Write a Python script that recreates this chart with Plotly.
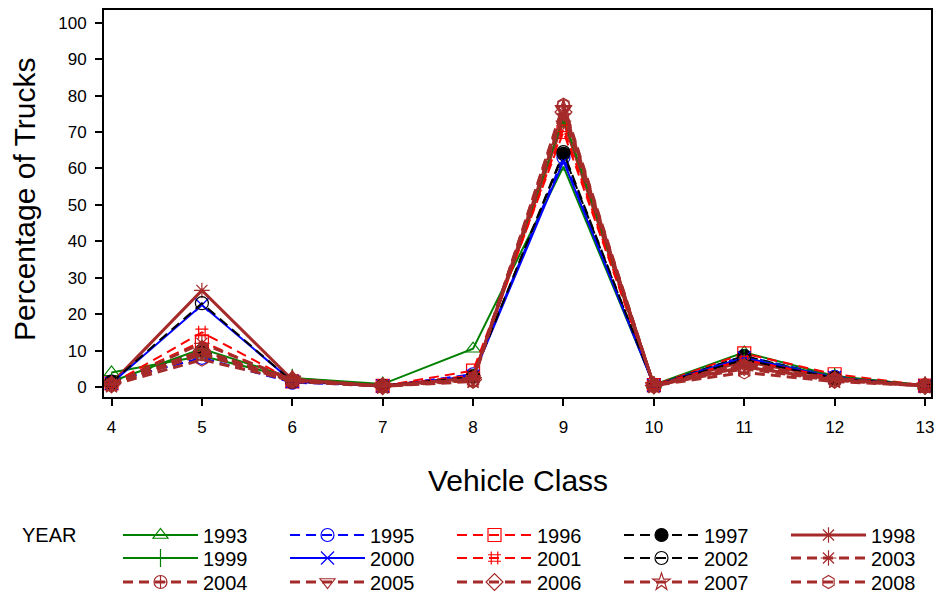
import plotly.graph_objects as go

vehicle_class = [4, 5, 6, 7, 8, 9, 10, 11, 12, 13]

y1993 = [4.0, 8.5, 2.5, 0.8, 10.5, 60.5, 0.6, 9.5, 3.0, 0.4]
y1995 = [1.5, 8.0, 1.2, 0.3, 3.5, 63.0, 0.4, 8.5, 2.8, 0.3]
y1996 = [1.0, 12.5, 1.5, 0.3, 4.5, 70.0, 0.5, 9.2, 3.5, 0.4]
y1997 = [1.5, 10.0, 1.5, 0.3, 3.0, 64.0, 0.4, 8.5, 2.5, 0.3]
y1998 = [1.0, 26.5, 2.0, 0.3, 2.5, 73.0, 0.5, 7.0, 2.5, 0.4]
y1999 = [1.5, 10.5, 2.5, 0.4, 2.5, 74.0, 0.5, 8.0, 2.8, 0.4]
y2000 = [1.0, 22.5, 1.5, 0.3, 3.0, 62.0, 0.4, 8.0, 2.6, 0.3]
y2001 = [0.8, 15.0, 1.8, 0.3, 3.2, 71.0, 0.5, 7.5, 2.5, 0.4]
y2002 = [1.2, 23.0, 1.5, 0.3, 2.8, 64.5, 0.4, 7.5, 2.4, 0.3]
y2003 = [0.8, 12.0, 2.0, 0.3, 2.5, 75.0, 0.5, 6.5, 2.2, 0.4]
y2004 = [0.6, 9.0, 1.5, 0.2, 2.0, 77.0, 0.4, 5.5, 2.0, 0.3]
y2005 = [0.8, 9.5, 1.8, 0.2, 2.2, 76.0, 0.4, 6.0, 2.2, 0.3]
y2006 = [0.7, 10.0, 2.0, 0.2, 2.0, 75.5, 0.4, 5.5, 2.0, 0.3]
y2007 = [0.6, 9.0, 2.2, 0.2, 1.8, 76.5, 0.4, 5.0, 1.8, 0.3]
y2008 = [0.5, 7.5, 1.8, 0.2, 1.5, 77.5, 0.4, 4.0, 1.5, 0.3]

GREEN = "#008000"
BLUE = "#0000FF"
RED = "#FF0000"
BLACK = "#000000"
BROWN = "#A52A2A"
DASH = "10px,6px"

# year, values, colour, marker, dash, legend (rows 1-3: first four columns, 4-6: last column)
series = [
    ("1993", y1993, GREEN, "triangle-up-open", "solid", "legend"),
    ("1995", y1995, BLUE, "circle-open", DASH, "legend"),
    ("1996", y1996, RED, "square-open", DASH, "legend"),
    ("1997", y1997, BLACK, "circle", DASH, "legend"),
    ("1998", y1998, BROWN, "asterisk-open", "solid", "legend4"),
    ("1999", y1999, GREEN, "line-ns-open", "solid", "legend2"),
    ("2000", y2000, BLUE, "x-thin-open", "solid", "legend2"),
    ("2001", y2001, RED, "hash-open", DASH, "legend2"),
    ("2002", y2002, BLACK, "circle-open", DASH, "legend2"),
    ("2003", y2003, BROWN, "asterisk-open", DASH, "legend5"),
    ("2004", y2004, BROWN, "circle-cross-open", DASH, "legend3"),
    ("2005", y2005, BROWN, "triangle-down-open", DASH, "legend3"),
    ("2006", y2006, BROWN, "diamond-open", DASH, "legend3"),
    ("2007", y2007, BROWN, "star-open", DASH, "legend3"),
    ("2008", y2008, BROWN, "hexagon-open", DASH, "legend6"),
]

FONT = "Arial, Liberation Sans, sans-serif"

fig = go.Figure()
for year, vals, color, sym, dash, leg in series:
    fig.add_trace(go.Scatter(
        x=vehicle_class, y=vals, name=year, mode="lines+markers",
        line=dict(color=color, width=3 if color == BROWN else 2, dash=dash),
        marker=dict(symbol=sym, size=13, color=color, line=dict(color=color, width=1.2)),
        legend=leg,
    ))

axis_style = dict(
    showline=True, linecolor="black", linewidth=2, mirror=True,
    ticks="outside", ticklen=7, tickwidth=2, tickcolor="black",
    showgrid=False, zeroline=False,
    tickfont=dict(size=17, color="black", family=FONT),
)

fig.update_xaxes(range=[3.917, 13.066], tickvals=vehicle_class, ticklabelstandoff=7, **axis_style)
fig.update_yaxes(range=[-2.75, 103.5], tickvals=list(range(0, 101, 10)),
                 ticklabelstandoff=5, **axis_style)

# horizontal legends, entries 167 px apart
leg_common = dict(
    orientation="h", yanchor="middle", xanchor="left",
    font=dict(size=20, color="black", family=FONT),
    itemwidth=75, entrywidth=77, entrywidthmode="pixels",
    bgcolor="rgba(0,0,0,0)",
)
x_first = (118 - 104) / 827
x_last = (118 + 4 * 167 - 104) / 827
row_y = [(397 - 535) / 387, (397 - 558) / 387, (397 - 582) / 387]
fig.update_layout(
    legend=dict(x=x_first, y=row_y[0], **leg_common),
    legend2=dict(x=x_first, y=row_y[1], **leg_common),
    legend3=dict(x=x_first, y=row_y[2], **leg_common),
    legend4=dict(x=x_last, y=row_y[0], **leg_common),
    legend5=dict(x=x_last, y=row_y[1], **leg_common),
    legend6=dict(x=x_last, y=row_y[2], **leg_common),
)

fig.add_annotation(text="Percentage of Trucks", textangle=-90, xref="paper", yref="paper",
                   x=-0.0967, y=0.509, xanchor="center", yanchor="middle", showarrow=False,
                   font=dict(size=30, color="black", family=FONT))
fig.add_annotation(text="Vehicle Class", xref="paper", yref="paper",
                   x=0.5, y=-0.2145, xanchor="center", yanchor="middle", showarrow=False,
                   font=dict(size=30, color="black", family=FONT))
fig.add_annotation(text="YEAR", xref="paper", yref="paper",
                   x=(20 - 104) / 827, y=row_y[0], xanchor="left", yanchor="middle",
                   showarrow=False, font=dict(size=20, color="black", family=FONT))

fig.update_layout(
    width=936, height=598,
    margin=dict(l=104, r=5, t=10, b=201, autoexpand=False),
    plot_bgcolor="white", paper_bgcolor="white",
    showlegend=True,
)

fig.write_html("out.html", config={"displayModeBar": False},
               post_script="document.body.style.margin='0';")
